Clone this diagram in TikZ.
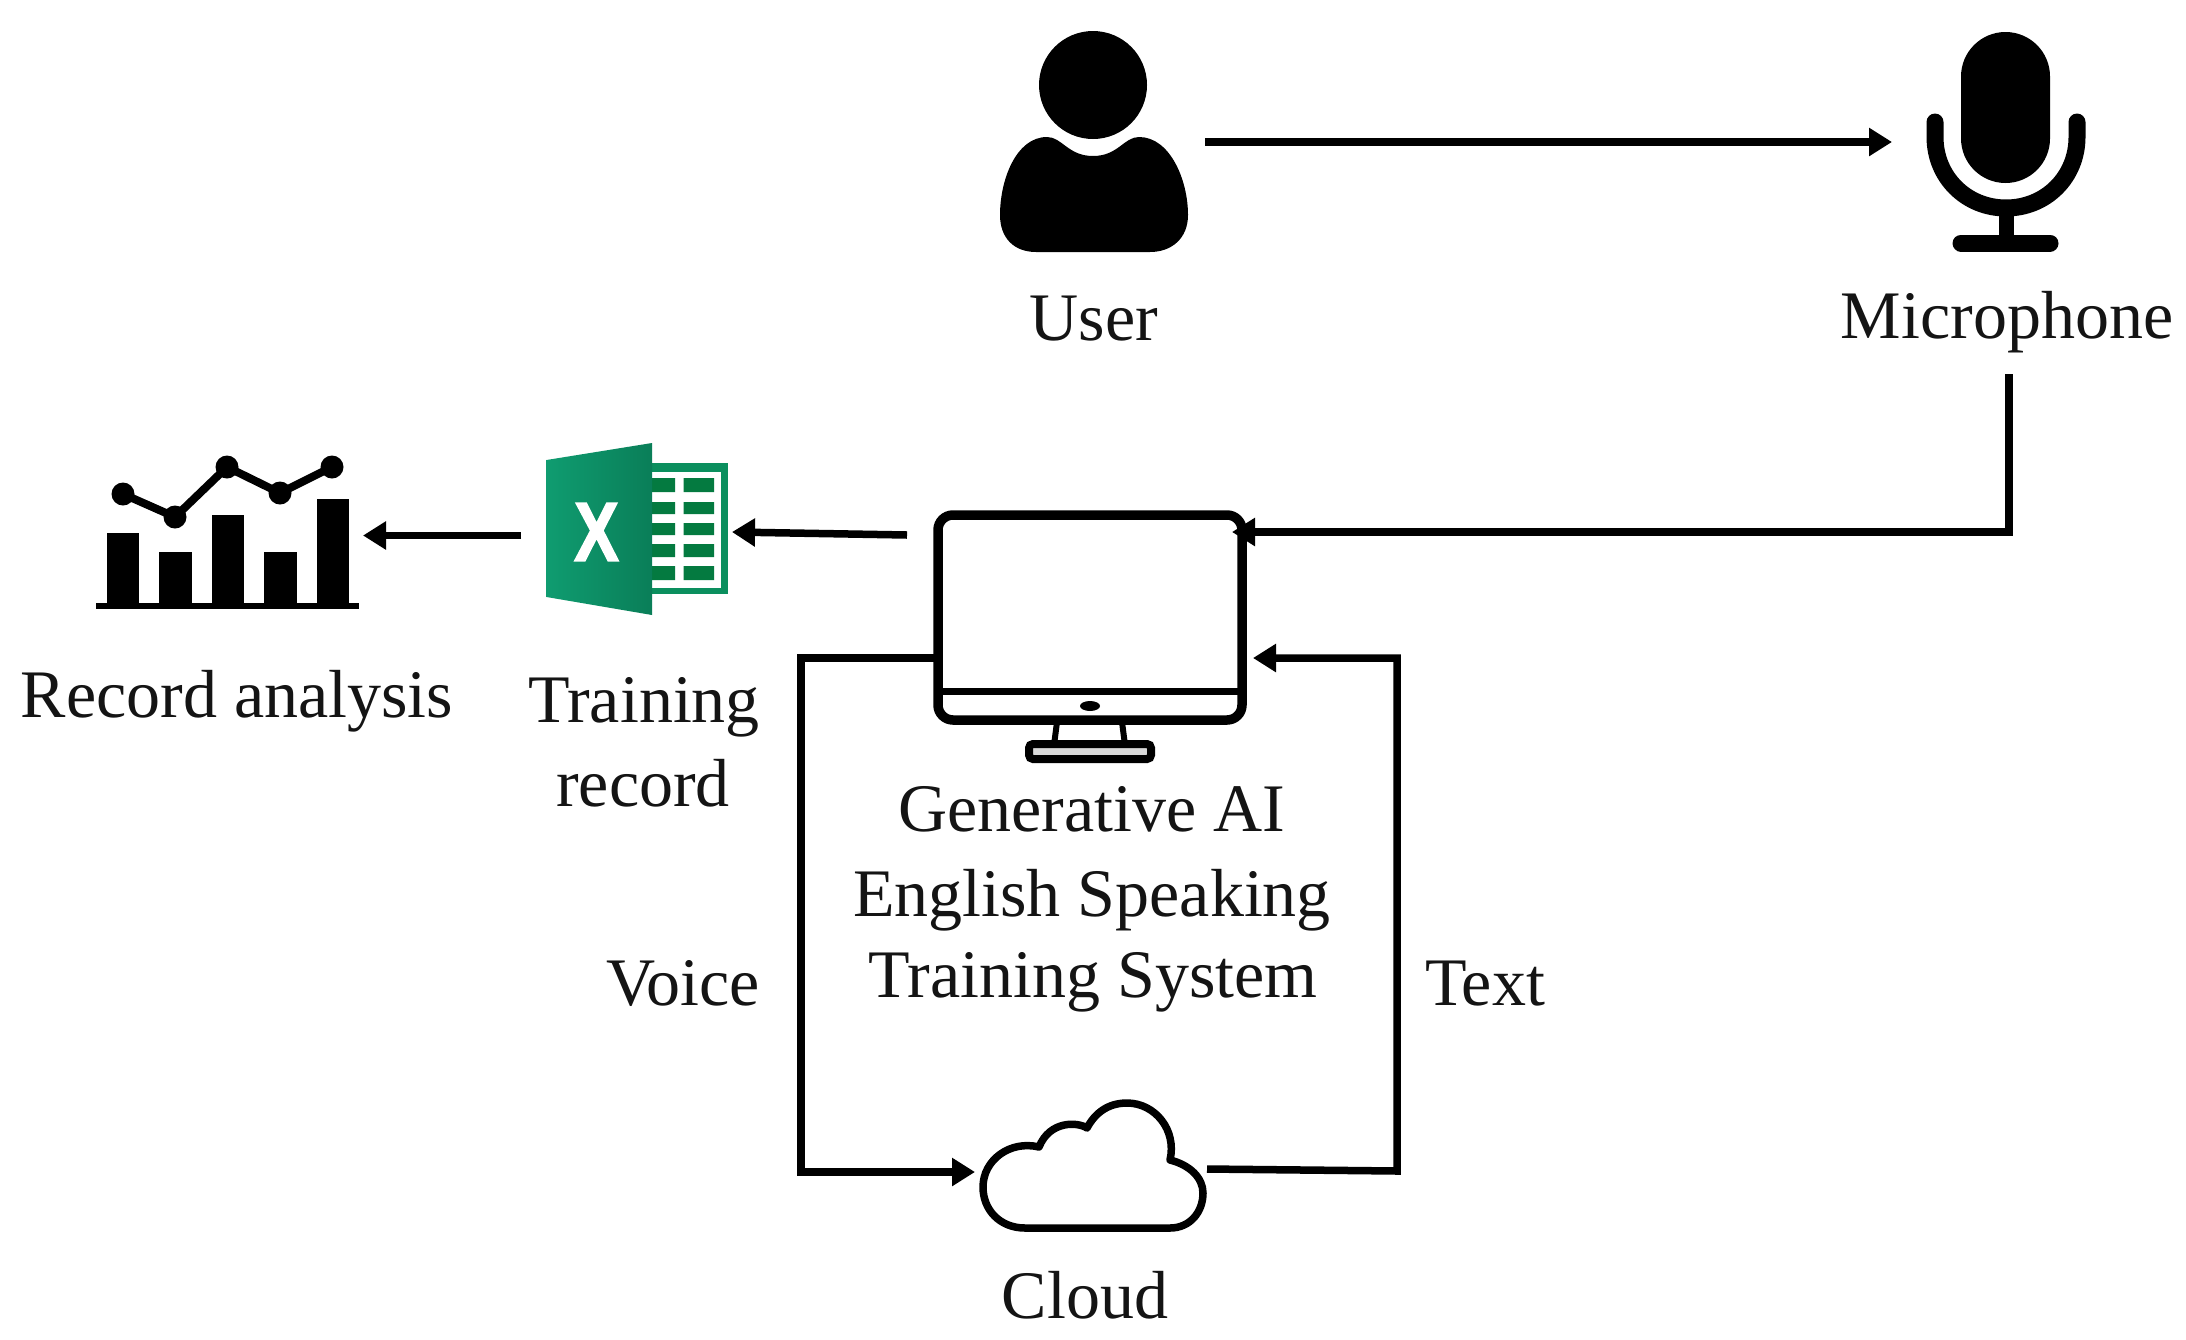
\documentclass[tikz,border=0pt]{standalone}
\usepackage{graphicx}
\usepackage{fontspec}
\setmainfont{Liberation Serif}
\newfontfamily\xlsans{Liberation Sans Bold}[FakeBold=2]
\usetikzlibrary{arrows.meta}
\definecolor{xlfrontA}{HTML}{0F9C70}
\definecolor{xlfrontB}{HTML}{0A7E58}
\definecolor{xlback}{HTML}{0B8F5E}
\definecolor{xlcell}{HTML}{047A40}
\tikzset{
  lbl/.style={anchor=base,inner sep=0pt,font=\fontsize{68}{72}\selectfont,text=black!92},
  conn/.style={line width=7.5pt,-{Triangle[length=23pt,width=27pt]}},
  xlc/.style={fill=xlcell,draw=none}
}
\begin{document}
\begin{tikzpicture}[x=1pt,y=-1pt,line join=miter]
\useasboundingbox (0,0) rectangle (2186,1339);
\fill[white] (0,0) rectangle (2186,1339);

% connector ends
\coordinate (userE) at (1205,142);
\coordinate (micW) at (1892,142);
\coordinate (micS) at (2009,374);
\coordinate (monE) at (1232,532);
\coordinate (elbowA) at (2009,532);
\coordinate (monW) at (907,535);
\coordinate (xlE) at (732,532);
\coordinate (xlW) at (521,535.5);
\coordinate (chartE) at (363,535.5);
\coordinate (monL) at (935,658);
\coordinate (elbowB) at (801,658);
\coordinate (elbowC) at (801,1172);
\coordinate (cloudW) at (975,1172);
\coordinate (cloudE) at (1207,1169);
\coordinate (elbowD) at (1397,1171);
\coordinate (elbowE) at (1397,658);
\coordinate (monR) at (1253,658);

% user
\fill (1093,85) circle (54);
\fill (1047,137) .. controls (1062,137) and (1068,156) .. (1093,156)
  .. controls (1118,156) and (1124,137) .. (1139,137)
  .. controls (1170,137) and (1188,180) .. (1188,215)
  .. controls (1188,238) and (1172,252) .. (1150,252)
  -- (1036,252)
  .. controls (1014,252) and (1000,238) .. (1000,215)
  .. controls (1000,180) and (1016,137) .. (1047,137) -- cycle;

% microphone
\fill[rounded corners=44.5] (1961,32) rectangle (2050,183);
\draw[line width=17pt,line cap=round] (1935,122) -- (1935,137)
  .. controls (1935,177) and (1966,208) .. (2006,208)
  .. controls (2046,208) and (2077,177) .. (2077,137) -- (2077,122);
\draw[line width=15pt] (2006,208) -- (2006,243);
\draw[line width=17pt,line cap=round] (1961,243) -- (2050,243);

% monitor
\draw[line width=9.5pt,rounded corners=15] (938,515) rectangle (1242,720);
\draw[line width=7pt] (938,691) -- (1242,691);
\fill (1090,706) ellipse (10 and 5);
\draw[line width=6pt] (1057,722) -- (1054,745);
\draw[line width=6pt] (1122,722) -- (1125,745);
\draw[line width=8pt,fill=black!15,rounded corners=4] (1029,744) rectangle (1151,759);

% excel
\fill[xlback] (652,463) rectangle (728,594);
\fill[white] (652,472) rectangle (720.5,588);
\fill[xlc] (652,478) rectangle (675,492) (683.5,478) rectangle (714,492);
\fill[xlc] (652,502) rectangle (675,514) (683.5,502) rectangle (714,514);
\fill[xlc] (652,523) rectangle (675,535) (683.5,523) rectangle (714,535);
\fill[xlc] (652,544) rectangle (675,557) (683.5,544) rectangle (714,557);
\fill[xlc] (652,566) rectangle (675,580) (683.5,566) rectangle (714,580);
\shade[left color=xlfrontA,right color=xlfrontB] (546.5,460) -- (652,443) -- (652,615) -- (546.5,597) -- cycle;
\node[inner sep=0pt,text=white] (xlmark) at (596.5,532) {\fontsize{84}{84}\selectfont\xlsans\scalebox{0.8}[1]{X}};

% chart
\fill (107,533) rectangle (139,606);
\fill (159,552) rectangle (192,606);
\fill (212,515) rectangle (244,606);
\fill (264,552) rectangle (296.5,606);
\fill (317,499) rectangle (349,606);
\draw[line width=6.5pt] (96,606) -- (359,606);
\draw[line width=8pt] (123,494) -- (175,517) -- (227,467) -- (280,493) -- (332,467);
\fill (123,494) circle (11.5) (175,517) circle (11.5) (227,467) circle (11.5) (280,493) circle (11.5) (332,467) circle (11.5);

% cloud
\draw[line width=7.5pt,line join=round] (1025,1228) -- (1170,1228)
  .. controls (1190,1228) and (1203,1212) .. (1203,1193)
  .. controls (1203,1178) and (1190,1165) .. (1170,1160)
  .. controls (1177,1130) and (1155,1103) .. (1127,1103)
  .. controls (1108,1103) and (1095,1113) .. (1087,1128)
  .. controls (1078,1122) and (1050,1120) .. (1039,1147)
  .. controls (1010,1140) and (983,1160) .. (983,1187)
  .. controls (983,1210) and (1000,1228) .. (1025,1228) -- cycle;

% connectors
\draw[conn] (userE) -- (micW);
\draw[conn] (micS) -- (elbowA) -- (monE);
\draw[conn] (monW) -- (xlE);
\draw[conn] (xlW) -- (chartE);
\draw[conn] (monL) -- (elbowB) -- (elbowC) -- (cloudW);
\draw[conn] (cloudE) -- (elbowD) -- (elbowE) -- (monR);

% labels
\node[lbl] (tUser) at (1094,340) {User};
\node[lbl] (tMic) at (2007,338) {Microphone};
\node[lbl] (tRec) at (237,717) {Record analysis};
\node[lbl] (tTr1) at (644,722) {Training};
\node[lbl] (tTr2) at (643,806) {record};
\node[lbl] (tG1) at (1092,831) {Generative AI};
\node[lbl] (tG2) at (1092,916) {English Speaking};
\node[lbl] (tG3) at (1093,997) {Training System};
\node[lbl] (tVoice) at (683,1005) {Voice};
\node[lbl] (tText) at (1485,1005) {Text};
\node[lbl] (tCloud) at (1085,1318) {Cloud};
\end{tikzpicture}
\end{document}
